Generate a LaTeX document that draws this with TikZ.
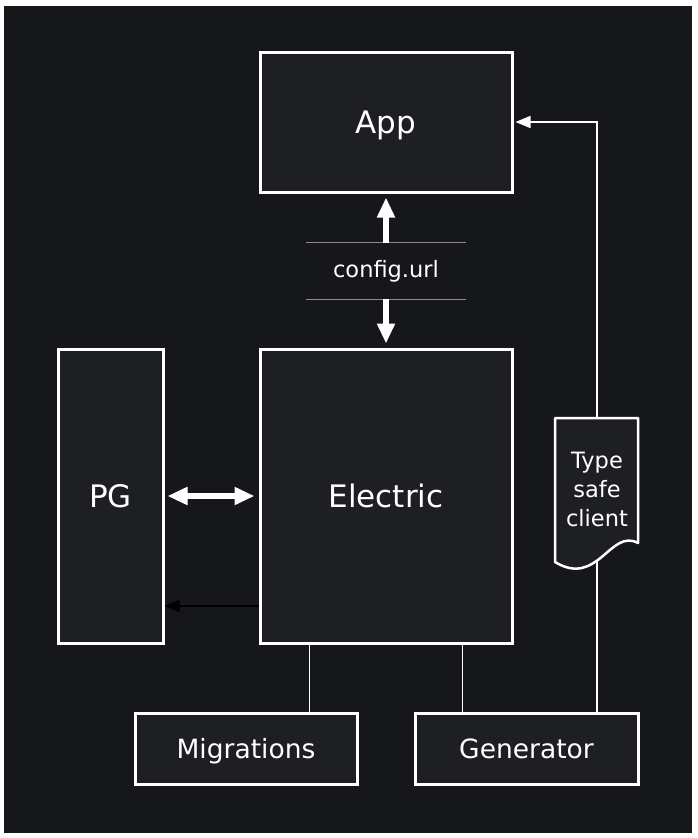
\documentclass[tikz,border=0pt]{standalone}
\usepackage{fontspec}
\setmainfont{DejaVu Sans}
\usetikzlibrary{arrows.meta}

\definecolor{bgdark}{HTML}{16171A}
\definecolor{boxfill}{HTML}{1E1F23}
\definecolor{rulegray}{HTML}{8A8A8A}

\tikzset{
  block/.style={draw=white,line width=3pt,fill=boxfill,text=white,inner sep=0pt,text depth=0pt},
  bigtext/.style={font=\fontsize{31}{36}\selectfont,text height=22.6pt},
  smalltext/.style={font=\fontsize{26.5}{32}\selectfont,text height=19.3pt},
  wire/.style={draw=white,line width=1.5pt},
  fatarrow/.style={draw=white,line width=6pt,-{Triangle[length=20pt,width=17pt]},shorten >=4pt},
  fatboth/.style={draw=white,line width=6pt,{Triangle[length=20pt,width=17pt]}-{Triangle[length=20pt,width=17pt]},shorten >=4pt,shorten <=3pt},
  thinarrow/.style={line width=1.5pt,-{Triangle[length=15pt,width=12pt]}}
}

\begin{document}
\begin{tikzpicture}[x=1pt,y=-1pt]
\fill[white] (0,0) rectangle (698,838);
\fill[bgdark] (4,6) rectangle (692,833);
\useasboundingbox (0,0) rectangle (698,838);

\node[block,bigtext,minimum width=252pt,minimum height=140pt] (app) at (386,122) {App};
\node[block,bigtext,minimum width=252pt,minimum height=294pt] (electric) at (386,496) {Electric};
\node[block,bigtext,minimum width=105pt,minimum height=294pt] (pg) at (110.5,496) {PG};
\node[block,smalltext,minimum width=222pt,minimum height=71pt] (migrations) at (246,748.5) {Migrations};
\node[block,smalltext,minimum width=223pt,minimum height=71pt] (generator) at (526.5,748.5) {Generator};

\node[text=white,minimum width=159pt,minimum height=56pt,inner sep=0pt,font=\fontsize{22.5}{28}\selectfont] (cfg) at (386,271) {config.url};
\draw[rulegray,line width=1.2pt] (cfg.north west) -- (cfg.north east);
\draw[rulegray,line width=1.2pt] (cfg.south west) -- (cfg.south east);
\draw[fatarrow] (cfg.north) -- (app.south);
\draw[fatarrow] (cfg.south) -- (electric.north);

\draw[fatboth] (pg.east) -- (electric.west);
\draw[thinarrow,black] ([yshift=-110pt]electric.west) -- ([yshift=-110pt]electric.west -| pg.east);

\draw[wire] ([xshift=51pt]electric.south west) -- ([xshift=51pt]electric.south west |- migrations.north);
\draw[wire] ([xshift=-51pt]electric.south east) -- ([xshift=-51pt]electric.south east |- generator.north);

\coordinate (doctop) at (597,418);
\draw[wire] (generator.north -| doctop) -- (doctop);
\draw[draw=white,line width=2.5pt,fill=boxfill,line join=round] (555,418) -- (638,418) -- (638,543)
  .. controls (610,528) and (598,588) .. (555,562) -- cycle;
\node[text=white,align=center,inner sep=0pt,font=\fontsize{22.5}{29}\selectfont] (client) at (597,489) {Type\\safe\\client};
\draw[thinarrow,white] (doctop) -- (doctop |- app.east) -- ([xshift=2pt]app.east);
\end{tikzpicture}
\end{document}
